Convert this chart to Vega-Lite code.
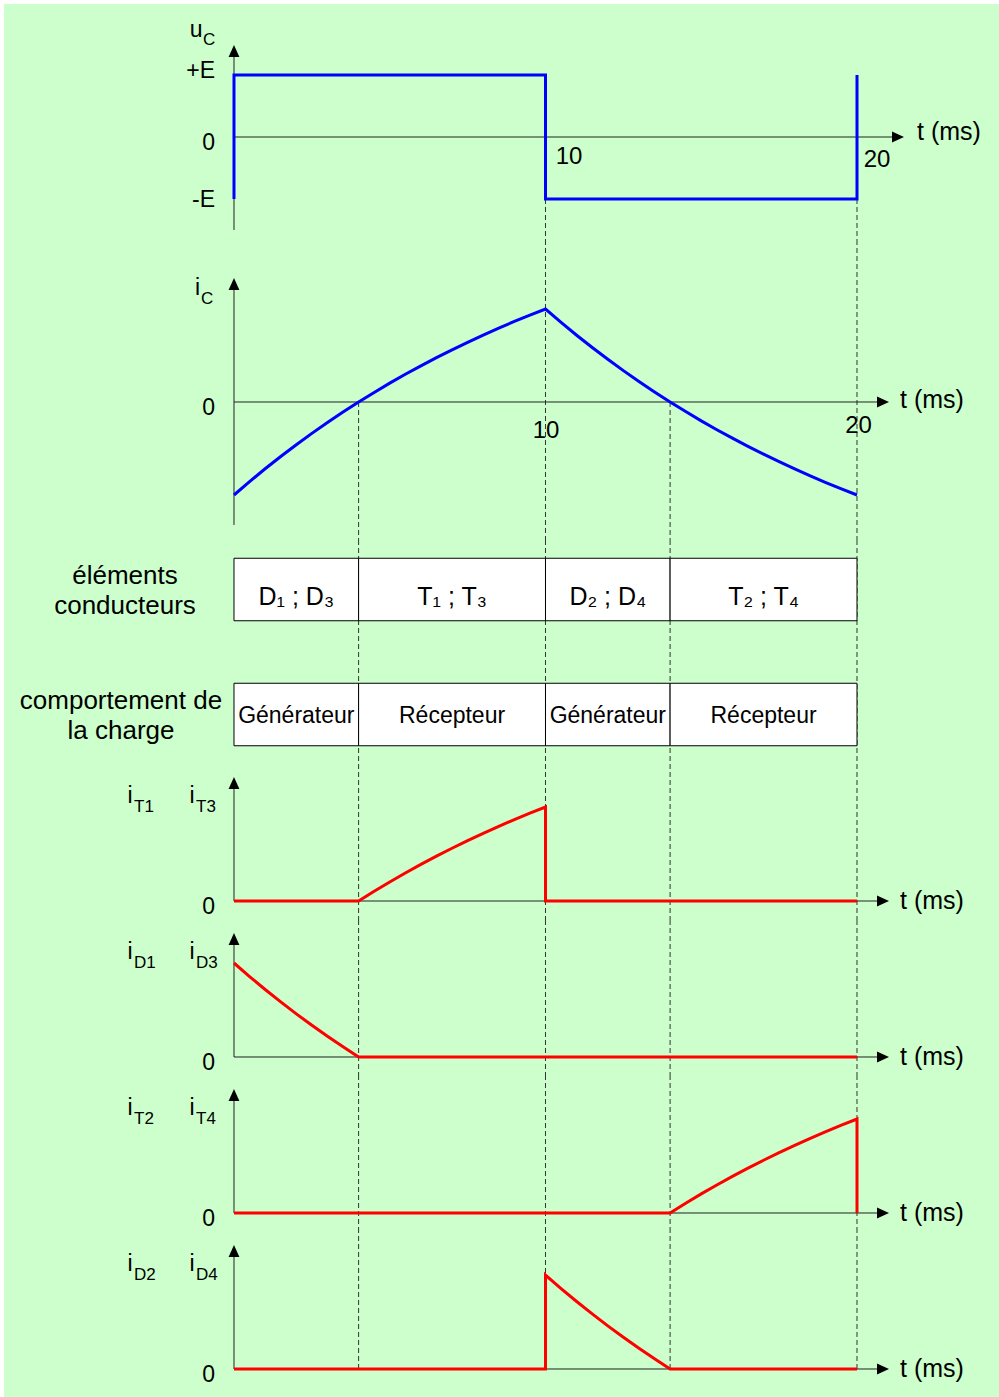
{
  "$schema": "https://vega.github.io/schema/vega-lite/v6.json",
  "background": "white",
  "padding": {"left": 4, "top": 4, "right": 0, "bottom": 0},
  "bounds": "flush",
  "spacing": 0,
  "resolve": {"scale": {"x": "independent", "y": "independent"}},
  "config": {
    "view": {"stroke": null, "fill": "#CCFFCC"},
    "font": "Liberation Sans",
    "axis": {"disable": true},
    "text": {"font": "Liberation Sans", "color": "black"}
  },
  "datasets": {
    "bounds": [{"t": 4}, {"t": 10}, {"t": 14}, {"t": 20}],
    "uc": [
      {"k": 0, "t": 0, "v": -1}, {"k": 1, "t": 0, "v": 1}, {"k": 2, "t": 10, "v": 1},
      {"k": 3, "t": 10, "v": -1}, {"k": 4, "t": 20, "v": -1}, {"k": 5, "t": 20, "v": 1}
    ],
    "ic": [
      {"t": 0, "v": -1}, {"t": 0.5, "v": -0.856}, {"t": 1, "v": -0.718}, {"t": 1.5, "v": -0.586},
      {"t": 2, "v": -0.459}, {"t": 2.5, "v": -0.337}, {"t": 3, "v": -0.22}, {"t": 3.5, "v": -0.108},
      {"t": 4, "v": 0}, {"t": 4.5, "v": 0.103}, {"t": 5, "v": 0.203}, {"t": 5.5, "v": 0.298},
      {"t": 6, "v": 0.389}, {"t": 6.5, "v": 0.477}, {"t": 7, "v": 0.561}, {"t": 7.5, "v": 0.642},
      {"t": 8, "v": 0.72}, {"t": 8.5, "v": 0.794}, {"t": 9, "v": 0.866}, {"t": 9.5, "v": 0.934},
      {"t": 10, "v": 1}, {"t": 10.5, "v": 0.856}, {"t": 11, "v": 0.718}, {"t": 11.5, "v": 0.586},
      {"t": 12, "v": 0.459}, {"t": 12.5, "v": 0.337}, {"t": 13, "v": 0.22}, {"t": 13.5, "v": 0.108},
      {"t": 14, "v": 0}, {"t": 14.5, "v": -0.103}, {"t": 15, "v": -0.203}, {"t": 15.5, "v": -0.298},
      {"t": 16, "v": -0.389}, {"t": 16.5, "v": -0.477}, {"t": 17, "v": -0.561}, {"t": 17.5, "v": -0.642},
      {"t": 18, "v": -0.72}, {"t": 18.5, "v": -0.794}, {"t": 19, "v": -0.866}, {"t": 19.5, "v": -0.934},
      {"t": 20, "v": -1}
    ],
    "iT13": [
      {"k": 0, "t": 0, "v": 0}, {"k": 1, "t": 4, "v": 0}, {"k": 2, "t": 4.5, "v": 0.103},
      {"k": 3, "t": 5, "v": 0.203}, {"k": 4, "t": 5.5, "v": 0.298}, {"k": 5, "t": 6, "v": 0.389},
      {"k": 6, "t": 6.5, "v": 0.477}, {"k": 7, "t": 7, "v": 0.561}, {"k": 8, "t": 7.5, "v": 0.642},
      {"k": 9, "t": 8, "v": 0.72}, {"k": 10, "t": 8.5, "v": 0.794}, {"k": 11, "t": 9, "v": 0.866},
      {"k": 12, "t": 9.5, "v": 0.934}, {"k": 13, "t": 10, "v": 1}, {"k": 14, "t": 10, "v": 0},
      {"k": 15, "t": 20, "v": 0}
    ],
    "iD13": [
      {"k": 0, "t": 0, "v": 1}, {"k": 1, "t": 0.5, "v": 0.856}, {"k": 2, "t": 1, "v": 0.718},
      {"k": 3, "t": 1.5, "v": 0.586}, {"k": 4, "t": 2, "v": 0.459}, {"k": 5, "t": 2.5, "v": 0.337},
      {"k": 6, "t": 3, "v": 0.22}, {"k": 7, "t": 3.5, "v": 0.108}, {"k": 8, "t": 4, "v": 0},
      {"k": 9, "t": 20, "v": 0}
    ],
    "iT24": [
      {"k": 0, "t": 0, "v": 0}, {"k": 1, "t": 14, "v": 0}, {"k": 2, "t": 14.5, "v": 0.103},
      {"k": 3, "t": 15, "v": 0.203}, {"k": 4, "t": 15.5, "v": 0.298}, {"k": 5, "t": 16, "v": 0.389},
      {"k": 6, "t": 16.5, "v": 0.477}, {"k": 7, "t": 17, "v": 0.561}, {"k": 8, "t": 17.5, "v": 0.642},
      {"k": 9, "t": 18, "v": 0.72}, {"k": 10, "t": 18.5, "v": 0.794}, {"k": 11, "t": 19, "v": 0.866},
      {"k": 12, "t": 19.5, "v": 0.934}, {"k": 13, "t": 20, "v": 1}, {"k": 14, "t": 20, "v": 0}
    ],
    "iD24": [
      {"k": 0, "t": 0, "v": 0}, {"k": 1, "t": 10, "v": 0}, {"k": 2, "t": 10, "v": 1},
      {"k": 3, "t": 10.5, "v": 0.856}, {"k": 4, "t": 11, "v": 0.718}, {"k": 5, "t": 11.5, "v": 0.586},
      {"k": 6, "t": 12, "v": 0.459}, {"k": 7, "t": 12.5, "v": 0.337}, {"k": 8, "t": 13, "v": 0.22},
      {"k": 9, "t": 13.5, "v": 0.108}, {"k": 10, "t": 14, "v": 0}, {"k": 11, "t": 20, "v": 0}
    ],
    "cells": [
      {"row": "elements", "t0": 0, "t1": 4, "tm": 2, "label": "D₁ ; D₃"},
      {"row": "elements", "t0": 4, "t1": 10, "tm": 7, "label": "T₁ ; T₃"},
      {"row": "elements", "t0": 10, "t1": 14, "tm": 12, "label": "D₂ ; D₄"},
      {"row": "elements", "t0": 14, "t1": 20, "tm": 17, "label": "T₂ ; T₄"},
      {"row": "comportement", "t0": 0, "t1": 4, "tm": 2, "label": "Générateur"},
      {"row": "comportement", "t0": 4, "t1": 10, "tm": 7, "label": "Récepteur"},
      {"row": "comportement", "t0": 10, "t1": 14, "tm": 12, "label": "Générateur"},
      {"row": "comportement", "t0": 14, "t1": 20, "tm": 17, "label": "Récepteur"}
    ]
  },
  "vconcat": [
    {
      "width": 995,
      "height": 236,
      "layer": [
        {
          "data": {"name": "bounds"},
          "transform": [{"filter": "datum.t == 10 || datum.t == 20"}],
          "mark": {"type": "rule", "color": "#333333", "strokeWidth": 1, "strokeDash": [5, 3]},
          "encoding": {
            "x": {"field": "t", "type": "quantitative", "scale": {"domain": [-7.3836, 24.5586], "nice": false, "zero": false}, "axis": null},
            "y": {"datum": -1, "type": "quantitative", "scale": {"domain": [-1.6613, 2.1452], "nice": false, "zero": false}, "axis": null},
            "y2": {"datum": -1.6613}
          }
        },
        {
          "data": {"values": [{}]},
          "mark": {"type": "rule", "color": "#222222", "strokeWidth": 1},
          "encoding": {
            "x": {"datum": 0, "type": "quantitative", "axis": null},
            "y": {"datum": -1.5, "type": "quantitative", "axis": null},
            "y2": {"datum": 1.38}
          }
        },
        {
          "data": {"values": [{}]},
          "mark": {"type": "rule", "color": "#222222", "strokeWidth": 1},
          "encoding": {
            "x": {"datum": 0, "type": "quantitative", "axis": null},
            "x2": {"datum": 21.2},
            "y": {"datum": 0, "type": "quantitative", "axis": null}
          }
        },
        {
          "data": {"name": "uc"},
          "mark": {"type": "line", "color": "#0000FF", "strokeWidth": 3},
          "encoding": {
            "x": {"field": "t", "type": "quantitative", "axis": null},
            "y": {"field": "v", "type": "quantitative", "axis": null},
            "order": {"field": "k", "type": "quantitative"}
          }
        },
        {
          "data": {"values": [{}]},
          "mark": {"type": "point", "shape": "M0,-1L0.9,1L-0.9,1Z", "size": 144, "filled": true, "color": "black", "opacity": 1},
          "encoding": {
            "x": {"datum": 0, "type": "quantitative", "axis": null},
            "y": {"datum": 1.387, "type": "quantitative", "axis": null}
          }
        },
        {
          "data": {"values": [{}]},
          "mark": {"type": "point", "shape": "M1,0L-1,-0.9L-1,0.9Z", "size": 144, "filled": true, "color": "black", "opacity": 1},
          "encoding": {
            "x": {"datum": 21.316, "type": "quantitative", "axis": null},
            "y": {"datum": 0, "type": "quantitative", "axis": null}
          }
        },
        {
          "data": {"values": [{"t": -1.424, "v": 1.613, "text": "u"}]},
          "mark": {"type": "text", "fontSize": 23, "align": "left", "baseline": "alphabetic"},
          "encoding": {
            "x": {"field": "t", "type": "quantitative", "axis": null},
            "y": {"field": "v", "type": "quantitative", "axis": null},
            "text": {"field": "text"}
          }
        },
        {
          "data": {"values": [{"t": 21.926, "v": -0.048, "text": "t (ms)"}]},
          "mark": {"type": "text", "fontSize": 25, "align": "left", "baseline": "alphabetic"},
          "encoding": {
            "x": {"field": "t", "type": "quantitative", "axis": null},
            "y": {"field": "v", "type": "quantitative", "axis": null},
            "text": {"field": "text"}
          }
        },
        {
          "data": {"values": [{"t": -0.61, "v": 0.952, "text": "+E"}, {"t": -0.61, "v": -0.21, "text": "0"}, {"t": -0.61, "v": -1.129, "text": "-E"}]},
          "mark": {"type": "text", "fontSize": 23, "align": "right", "baseline": "alphabetic"},
          "encoding": {
            "x": {"field": "t", "type": "quantitative", "axis": null},
            "y": {"field": "v", "type": "quantitative", "axis": null},
            "text": {"field": "text"}
          }
        },
        {
          "data": {"values": [{"t": 10.754, "v": -0.435, "text": "10"}, {"t": 20.642, "v": -0.484, "text": "20"}]},
          "mark": {"type": "text", "fontSize": 24, "align": "center", "baseline": "alphabetic"},
          "encoding": {
            "x": {"field": "t", "type": "quantitative", "axis": null},
            "y": {"field": "v", "type": "quantitative", "axis": null},
            "text": {"field": "text"}
          }
        },
        {
          "data": {"values": [{"t": -0.995, "v": 1.484, "text": "C"}]},
          "mark": {"type": "text", "fontSize": 17, "align": "left", "baseline": "alphabetic"},
          "encoding": {
            "x": {"field": "t", "type": "quantitative", "axis": null},
            "y": {"field": "v", "type": "quantitative", "axis": null},
            "text": {"field": "text"}
          }
        }
      ]
    },
    {
      "width": 995,
      "height": 300,
      "layer": [
        {
          "data": {"name": "bounds"},
          "transform": [{"filter": "datum.t == 10 || datum.t == 20"}],
          "mark": {"type": "rule", "color": "#333333", "strokeWidth": 1, "strokeDash": [5, 3]},
          "encoding": {
            "x": {"field": "t", "type": "quantitative", "scale": {"domain": [-7.3836, 24.5586], "nice": false, "zero": false}, "axis": null},
            "y": {"datum": 1.7419, "type": "quantitative", "scale": {"domain": [-1.4839, 1.7419], "nice": false, "zero": false}, "axis": null},
            "y2": {"datum": -1.4839}
          }
        },
        {
          "data": {"name": "bounds"},
          "transform": [{"filter": "datum.t == 4 || datum.t == 14"}],
          "mark": {"type": "rule", "color": "#333333", "strokeWidth": 1, "strokeDash": [5, 3]},
          "encoding": {
            "x": {"field": "t", "type": "quantitative", "axis": null},
            "y": {"datum": 0, "type": "quantitative", "axis": null},
            "y2": {"datum": -1.4839}
          }
        },
        {
          "data": {"values": [{}]},
          "mark": {"type": "rule", "color": "#222222", "strokeWidth": 1},
          "encoding": {
            "x": {"datum": 0, "type": "quantitative", "axis": null},
            "y": {"datum": -1.3226, "type": "quantitative", "axis": null},
            "y2": {"datum": 1.26}
          }
        },
        {
          "data": {"values": [{}]},
          "mark": {"type": "rule", "color": "#222222", "strokeWidth": 1},
          "encoding": {
            "x": {"datum": 0, "type": "quantitative", "axis": null},
            "x2": {"datum": 20.75},
            "y": {"datum": 0, "type": "quantitative", "axis": null}
          }
        },
        {
          "data": {"name": "ic"},
          "mark": {"type": "line", "color": "#0000FF", "strokeWidth": 3},
          "encoding": {
            "x": {"field": "t", "type": "quantitative", "axis": null},
            "y": {"field": "v", "type": "quantitative", "axis": null}
          }
        },
        {
          "data": {"values": [{}]},
          "mark": {"type": "point", "shape": "M0,-1L0.9,1L-0.9,1Z", "size": 144, "filled": true, "color": "black", "opacity": 1},
          "encoding": {
            "x": {"datum": 0, "type": "quantitative", "axis": null},
            "y": {"datum": 1.269, "type": "quantitative", "axis": null}
          }
        },
        {
          "data": {"values": [{}]},
          "mark": {"type": "point", "shape": "M1,0L-1,-0.9L-1,0.9Z", "size": 144, "filled": true, "color": "black", "opacity": 1},
          "encoding": {
            "x": {"datum": 20.835, "type": "quantitative", "axis": null},
            "y": {"datum": 0, "type": "quantitative", "axis": null}
          }
        },
        {
          "data": {"values": [{"t": -1.252, "v": 1.151, "text": "i"}]},
          "mark": {"type": "text", "fontSize": 23, "align": "left", "baseline": "alphabetic"},
          "encoding": {
            "x": {"field": "t", "type": "quantitative", "axis": null},
            "y": {"field": "v", "type": "quantitative", "axis": null},
            "text": {"field": "text"}
          }
        },
        {
          "data": {"values": [{"t": 21.38, "v": -0.065, "text": "t (ms)"}]},
          "mark": {"type": "text", "fontSize": 25, "align": "left", "baseline": "alphabetic"},
          "encoding": {
            "x": {"field": "t", "type": "quantitative", "axis": null},
            "y": {"field": "v", "type": "quantitative", "axis": null},
            "text": {"field": "text"}
          }
        },
        {
          "data": {"values": [{"t": -0.61, "v": -0.14, "text": "0"}]},
          "mark": {"type": "text", "fontSize": 23, "align": "right", "baseline": "alphabetic"},
          "encoding": {
            "x": {"field": "t", "type": "quantitative", "axis": null},
            "y": {"field": "v", "type": "quantitative", "axis": null},
            "text": {"field": "text"}
          }
        },
        {
          "data": {"values": [{"t": 10.016, "v": -0.387, "text": "10"}, {"t": 20.048, "v": -0.333, "text": "20"}]},
          "mark": {"type": "text", "fontSize": 24, "align": "center", "baseline": "alphabetic"},
          "encoding": {
            "x": {"field": "t", "type": "quantitative", "axis": null},
            "y": {"field": "v", "type": "quantitative", "axis": null},
            "text": {"field": "text"}
          }
        },
        {
          "data": {"values": [{"t": -1.059, "v": 1.054, "text": "C"}]},
          "mark": {"type": "text", "fontSize": 17, "align": "left", "baseline": "alphabetic"},
          "encoding": {
            "x": {"field": "t", "type": "quantitative", "axis": null},
            "y": {"field": "v", "type": "quantitative", "axis": null},
            "text": {"field": "text"}
          }
        }
      ]
    },
    {
      "width": 995,
      "height": 224,
      "layer": [
        {
          "data": {"name": "bounds"},
          "mark": {"type": "rule", "color": "#333333", "strokeWidth": 1, "strokeDash": [5, 3]},
          "encoding": {
            "x": {"field": "t", "type": "quantitative", "scale": {"domain": [-7.3836, 24.5586], "nice": false, "zero": false}, "axis": null}
          }
        },
        {
          "data": {"name": "cells"},
          "mark": {"type": "rect", "fill": "white", "stroke": "black", "strokeWidth": 1},
          "encoding": {
            "x": {"field": "t0", "type": "quantitative", "axis": null},
            "x2": {"field": "t1"},
            "y": {"field": "row", "type": "nominal", "axis": null, "scale": {"domain": ["elements", "comportement"], "paddingInner": 0.5, "paddingOuter": 0.146}}
          }
        },
        {
          "data": {"name": "cells"},
          "transform": [{"filter": "datum.row == 'elements'"}],
          "mark": {"type": "text", "fontSize": 25, "align": "center", "baseline": "middle", "dy": 7},
          "encoding": {
            "x": {"field": "tm", "type": "quantitative", "axis": null},
            "y": {"field": "row", "type": "nominal", "axis": null},
            "text": {"field": "label"}
          }
        },
        {
          "data": {"name": "cells"},
          "transform": [{"filter": "datum.row == 'comportement'"}],
          "mark": {"type": "text", "fontSize": 23, "align": "center", "baseline": "middle", "dy": 1},
          "encoding": {
            "x": {"field": "tm", "type": "quantitative", "axis": null},
            "y": {"field": "row", "type": "nominal", "axis": null},
            "text": {"field": "label"}
          }
        },
        {
          "data": {"values": [
            {"row": "elements", "t": -3.499, "text": "éléments\nconducteurs"},
            {"row": "comportement", "t": -3.628, "text": "comportement de\nla charge"}
          ]},
          "mark": {"type": "text", "fontSize": 26, "align": "center", "baseline": "middle", "lineBreak": "\n", "lineHeight": 30, "dy": -14},
          "encoding": {
            "x": {"field": "t", "type": "quantitative", "axis": null},
            "y": {"field": "row", "type": "nominal", "axis": null},
            "text": {"field": "text"}
          }
        }
      ]
    },
    {
      "width": 995,
      "height": 156,
      "layer": [
        {
          "data": {"name": "bounds"},
          "mark": {"type": "rule", "color": "#333333", "strokeWidth": 1, "strokeDash": [5, 3]},
          "encoding": {
            "x": {"field": "t", "type": "quantitative", "scale": {"domain": [-7.3836, 24.5586], "nice": false, "zero": false}, "axis": null}
          }
        },
        {
          "data": {"values": [{}]},
          "mark": {"type": "rule", "color": "#222222", "strokeWidth": 1},
          "encoding": {
            "x": {"datum": 0, "type": "quantitative", "axis": null},
            "y": {"datum": 0, "type": "quantitative", "scale": {"domain": [-0.2021, 1.4574], "nice": false, "zero": false}, "axis": null},
            "y2": {"datum": 1.24}
          }
        },
        {
          "data": {"values": [{}]},
          "mark": {"type": "rule", "color": "#222222", "strokeWidth": 1},
          "encoding": {
            "x": {"datum": 0, "type": "quantitative", "axis": null},
            "x2": {"datum": 20.75},
            "y": {"datum": 0, "type": "quantitative", "axis": null}
          }
        },
        {
          "data": {"name": "iT13"},
          "mark": {"type": "line", "color": "#FF0000", "strokeWidth": 3},
          "encoding": {
            "x": {"field": "t", "type": "quantitative", "axis": null},
            "y": {"field": "v", "type": "quantitative", "axis": null},
            "order": {"field": "k", "type": "quantitative"}
          }
        },
        {
          "data": {"values": [{}]},
          "mark": {"type": "point", "shape": "M0,-1L0.9,1L-0.9,1Z", "size": 144, "filled": true, "color": "black", "opacity": 1},
          "encoding": {
            "x": {"datum": 0, "type": "quantitative", "axis": null},
            "y": {"datum": 1.255, "type": "quantitative", "axis": null}
          }
        },
        {
          "data": {"values": [{}]},
          "mark": {"type": "point", "shape": "M1,0L-1,-0.9L-1,0.9Z", "size": 144, "filled": true, "color": "black", "opacity": 1},
          "encoding": {
            "x": {"datum": 20.835, "type": "quantitative", "axis": null},
            "y": {"datum": 0, "type": "quantitative", "axis": null}
          }
        },
        {
          "data": {"values": [{"t": -3.419, "v": 1.043, "text": "i"}, {"t": -1.429, "v": 1.043, "text": "i"}]},
          "mark": {"type": "text", "fontSize": 23, "align": "left", "baseline": "alphabetic"},
          "encoding": {
            "x": {"field": "t", "type": "quantitative", "axis": null},
            "y": {"field": "v", "type": "quantitative", "axis": null},
            "text": {"field": "text"}
          }
        },
        {
          "data": {"values": [{"t": 21.38, "v": -0.085, "text": "t (ms)"}]},
          "mark": {"type": "text", "fontSize": 25, "align": "left", "baseline": "alphabetic"},
          "encoding": {
            "x": {"field": "t", "type": "quantitative", "axis": null},
            "y": {"field": "v", "type": "quantitative", "axis": null},
            "text": {"field": "text"}
          }
        },
        {
          "data": {"values": [{"t": -0.61, "v": -0.14, "text": "0"}]},
          "mark": {"type": "text", "fontSize": 23, "align": "right", "baseline": "alphabetic"},
          "encoding": {
            "x": {"field": "t", "type": "quantitative", "axis": null},
            "y": {"field": "v", "type": "quantitative", "axis": null},
            "text": {"field": "text"}
          }
        },
        {
          "data": {"values": [{"t": -3.21, "v": 0.947, "text": "T1"}, {"t": -1.22, "v": 0.947, "text": "T3"}]},
          "mark": {"type": "text", "fontSize": 17, "align": "left", "baseline": "alphabetic"},
          "encoding": {
            "x": {"field": "t", "type": "quantitative", "axis": null},
            "y": {"field": "v", "type": "quantitative", "axis": null},
            "text": {"field": "text"}
          }
        }
      ]
    },
    {
      "width": 995,
      "height": 155,
      "layer": [
        {
          "data": {"name": "bounds"},
          "mark": {"type": "rule", "color": "#333333", "strokeWidth": 1, "strokeDash": [5, 3]},
          "encoding": {
            "x": {"field": "t", "type": "quantitative", "scale": {"domain": [-7.3836, 24.5586], "nice": false, "zero": false}, "axis": null}
          }
        },
        {
          "data": {"values": [{}]},
          "mark": {"type": "rule", "color": "#222222", "strokeWidth": 1},
          "encoding": {
            "x": {"datum": 0, "type": "quantitative", "axis": null},
            "y": {"datum": 0, "type": "quantitative", "scale": {"domain": [-0.1915, 1.4574], "nice": false, "zero": false}, "axis": null},
            "y2": {"datum": 1.24}
          }
        },
        {
          "data": {"values": [{}]},
          "mark": {"type": "rule", "color": "#222222", "strokeWidth": 1},
          "encoding": {
            "x": {"datum": 0, "type": "quantitative", "axis": null},
            "x2": {"datum": 20.75},
            "y": {"datum": 0, "type": "quantitative", "axis": null}
          }
        },
        {
          "data": {"name": "iD13"},
          "mark": {"type": "line", "color": "#FF0000", "strokeWidth": 3},
          "encoding": {
            "x": {"field": "t", "type": "quantitative", "axis": null},
            "y": {"field": "v", "type": "quantitative", "axis": null},
            "order": {"field": "k", "type": "quantitative"}
          }
        },
        {
          "data": {"values": [{}]},
          "mark": {"type": "point", "shape": "M0,-1L0.9,1L-0.9,1Z", "size": 144, "filled": true, "color": "black", "opacity": 1},
          "encoding": {
            "x": {"datum": 0, "type": "quantitative", "axis": null},
            "y": {"datum": 1.255, "type": "quantitative", "axis": null}
          }
        },
        {
          "data": {"values": [{}]},
          "mark": {"type": "point", "shape": "M1,0L-1,-0.9L-1,0.9Z", "size": 144, "filled": true, "color": "black", "opacity": 1},
          "encoding": {
            "x": {"datum": 20.835, "type": "quantitative", "axis": null},
            "y": {"datum": 0, "type": "quantitative", "axis": null}
          }
        },
        {
          "data": {"values": [{"t": -3.419, "v": 1.043, "text": "i"}, {"t": -1.429, "v": 1.043, "text": "i"}]},
          "mark": {"type": "text", "fontSize": 23, "align": "left", "baseline": "alphabetic"},
          "encoding": {
            "x": {"field": "t", "type": "quantitative", "axis": null},
            "y": {"field": "v", "type": "quantitative", "axis": null},
            "text": {"field": "text"}
          }
        },
        {
          "data": {"values": [{"t": 21.38, "v": -0.085, "text": "t (ms)"}]},
          "mark": {"type": "text", "fontSize": 25, "align": "left", "baseline": "alphabetic"},
          "encoding": {
            "x": {"field": "t", "type": "quantitative", "axis": null},
            "y": {"field": "v", "type": "quantitative", "axis": null},
            "text": {"field": "text"}
          }
        },
        {
          "data": {"values": [{"t": -0.61, "v": -0.14, "text": "0"}]},
          "mark": {"type": "text", "fontSize": 23, "align": "right", "baseline": "alphabetic"},
          "encoding": {
            "x": {"field": "t", "type": "quantitative", "axis": null},
            "y": {"field": "v", "type": "quantitative", "axis": null},
            "text": {"field": "text"}
          }
        },
        {
          "data": {"values": [{"t": -3.21, "v": 0.947, "text": "D1"}, {"t": -1.22, "v": 0.947, "text": "D3"}]},
          "mark": {"type": "text", "fontSize": 17, "align": "left", "baseline": "alphabetic"},
          "encoding": {
            "x": {"field": "t", "type": "quantitative", "axis": null},
            "y": {"field": "v", "type": "quantitative", "axis": null},
            "text": {"field": "text"}
          }
        }
      ]
    },
    {
      "width": 995,
      "height": 155,
      "layer": [
        {
          "data": {"name": "bounds"},
          "mark": {"type": "rule", "color": "#333333", "strokeWidth": 1, "strokeDash": [5, 3]},
          "encoding": {
            "x": {"field": "t", "type": "quantitative", "scale": {"domain": [-7.3836, 24.5586], "nice": false, "zero": false}, "axis": null}
          }
        },
        {
          "data": {"values": [{}]},
          "mark": {"type": "rule", "color": "#222222", "strokeWidth": 1},
          "encoding": {
            "x": {"datum": 0, "type": "quantitative", "axis": null},
            "y": {"datum": 0, "type": "quantitative", "scale": {"domain": [-0.1809, 1.4681], "nice": false, "zero": false}, "axis": null},
            "y2": {"datum": 1.24}
          }
        },
        {
          "data": {"values": [{}]},
          "mark": {"type": "rule", "color": "#222222", "strokeWidth": 1},
          "encoding": {
            "x": {"datum": 0, "type": "quantitative", "axis": null},
            "x2": {"datum": 20.75},
            "y": {"datum": 0, "type": "quantitative", "axis": null}
          }
        },
        {
          "data": {"name": "iT24"},
          "mark": {"type": "line", "color": "#FF0000", "strokeWidth": 3},
          "encoding": {
            "x": {"field": "t", "type": "quantitative", "axis": null},
            "y": {"field": "v", "type": "quantitative", "axis": null},
            "order": {"field": "k", "type": "quantitative"}
          }
        },
        {
          "data": {"values": [{}]},
          "mark": {"type": "point", "shape": "M0,-1L0.9,1L-0.9,1Z", "size": 144, "filled": true, "color": "black", "opacity": 1},
          "encoding": {
            "x": {"datum": 0, "type": "quantitative", "axis": null},
            "y": {"datum": 1.255, "type": "quantitative", "axis": null}
          }
        },
        {
          "data": {"values": [{}]},
          "mark": {"type": "point", "shape": "M1,0L-1,-0.9L-1,0.9Z", "size": 144, "filled": true, "color": "black", "opacity": 1},
          "encoding": {
            "x": {"datum": 20.835, "type": "quantitative", "axis": null},
            "y": {"datum": 0, "type": "quantitative", "axis": null}
          }
        },
        {
          "data": {"values": [{"t": -3.419, "v": 1.043, "text": "i"}, {"t": -1.429, "v": 1.043, "text": "i"}]},
          "mark": {"type": "text", "fontSize": 23, "align": "left", "baseline": "alphabetic"},
          "encoding": {
            "x": {"field": "t", "type": "quantitative", "axis": null},
            "y": {"field": "v", "type": "quantitative", "axis": null},
            "text": {"field": "text"}
          }
        },
        {
          "data": {"values": [{"t": 21.38, "v": -0.085, "text": "t (ms)"}]},
          "mark": {"type": "text", "fontSize": 25, "align": "left", "baseline": "alphabetic"},
          "encoding": {
            "x": {"field": "t", "type": "quantitative", "axis": null},
            "y": {"field": "v", "type": "quantitative", "axis": null},
            "text": {"field": "text"}
          }
        },
        {
          "data": {"values": [{"t": -0.61, "v": -0.14, "text": "0"}]},
          "mark": {"type": "text", "fontSize": 23, "align": "right", "baseline": "alphabetic"},
          "encoding": {
            "x": {"field": "t", "type": "quantitative", "axis": null},
            "y": {"field": "v", "type": "quantitative", "axis": null},
            "text": {"field": "text"}
          }
        },
        {
          "data": {"values": [{"t": -3.21, "v": 0.947, "text": "T2"}, {"t": -1.22, "v": 0.947, "text": "T4"}]},
          "mark": {"type": "text", "fontSize": 17, "align": "left", "baseline": "alphabetic"},
          "encoding": {
            "x": {"field": "t", "type": "quantitative", "axis": null},
            "y": {"field": "v", "type": "quantitative", "axis": null},
            "text": {"field": "text"}
          }
        }
      ]
    },
    {
      "width": 995,
      "height": 167,
      "layer": [
        {
          "data": {"name": "bounds"},
          "mark": {"type": "rule", "color": "#333333", "strokeWidth": 1, "strokeDash": [5, 3]},
          "encoding": {
            "x": {"field": "t", "type": "quantitative", "scale": {"domain": [-7.3836, 24.5586], "nice": false, "zero": false}, "axis": null},
            "y": {"datum": 0, "type": "quantitative", "scale": {"domain": [-0.2979, 1.4787], "nice": false, "zero": false}, "axis": null},
            "y2": {"datum": 1.4787}
          }
        },
        {
          "data": {"values": [{}]},
          "mark": {"type": "rule", "color": "#222222", "strokeWidth": 1},
          "encoding": {
            "x": {"datum": 0, "type": "quantitative", "axis": null},
            "y": {"datum": 0, "type": "quantitative", "axis": null},
            "y2": {"datum": 1.24}
          }
        },
        {
          "data": {"values": [{}]},
          "mark": {"type": "rule", "color": "#222222", "strokeWidth": 1},
          "encoding": {
            "x": {"datum": 0, "type": "quantitative", "axis": null},
            "x2": {"datum": 20.75},
            "y": {"datum": 0, "type": "quantitative", "axis": null}
          }
        },
        {
          "data": {"name": "iD24"},
          "mark": {"type": "line", "color": "#FF0000", "strokeWidth": 3},
          "encoding": {
            "x": {"field": "t", "type": "quantitative", "axis": null},
            "y": {"field": "v", "type": "quantitative", "axis": null},
            "order": {"field": "k", "type": "quantitative"}
          }
        },
        {
          "data": {"values": [{}]},
          "mark": {"type": "point", "shape": "M0,-1L0.9,1L-0.9,1Z", "size": 144, "filled": true, "color": "black", "opacity": 1},
          "encoding": {
            "x": {"datum": 0, "type": "quantitative", "axis": null},
            "y": {"datum": 1.255, "type": "quantitative", "axis": null}
          }
        },
        {
          "data": {"values": [{}]},
          "mark": {"type": "point", "shape": "M1,0L-1,-0.9L-1,0.9Z", "size": 144, "filled": true, "color": "black", "opacity": 1},
          "encoding": {
            "x": {"datum": 20.835, "type": "quantitative", "axis": null},
            "y": {"datum": 0, "type": "quantitative", "axis": null}
          }
        },
        {
          "data": {"values": [{"t": -3.419, "v": 1.043, "text": "i"}, {"t": -1.429, "v": 1.043, "text": "i"}]},
          "mark": {"type": "text", "fontSize": 23, "align": "left", "baseline": "alphabetic"},
          "encoding": {
            "x": {"field": "t", "type": "quantitative", "axis": null},
            "y": {"field": "v", "type": "quantitative", "axis": null},
            "text": {"field": "text"}
          }
        },
        {
          "data": {"values": [{"t": 21.38, "v": -0.085, "text": "t (ms)"}]},
          "mark": {"type": "text", "fontSize": 25, "align": "left", "baseline": "alphabetic"},
          "encoding": {
            "x": {"field": "t", "type": "quantitative", "axis": null},
            "y": {"field": "v", "type": "quantitative", "axis": null},
            "text": {"field": "text"}
          }
        },
        {
          "data": {"values": [{"t": -0.61, "v": -0.14, "text": "0"}]},
          "mark": {"type": "text", "fontSize": 23, "align": "right", "baseline": "alphabetic"},
          "encoding": {
            "x": {"field": "t", "type": "quantitative", "axis": null},
            "y": {"field": "v", "type": "quantitative", "axis": null},
            "text": {"field": "text"}
          }
        },
        {
          "data": {"values": [{"t": -3.21, "v": 0.947, "text": "D2"}, {"t": -1.22, "v": 0.947, "text": "D4"}]},
          "mark": {"type": "text", "fontSize": 17, "align": "left", "baseline": "alphabetic"},
          "encoding": {
            "x": {"field": "t", "type": "quantitative", "axis": null},
            "y": {"field": "v", "type": "quantitative", "axis": null},
            "text": {"field": "text"}
          }
        }
      ]
    }
  ]
}
